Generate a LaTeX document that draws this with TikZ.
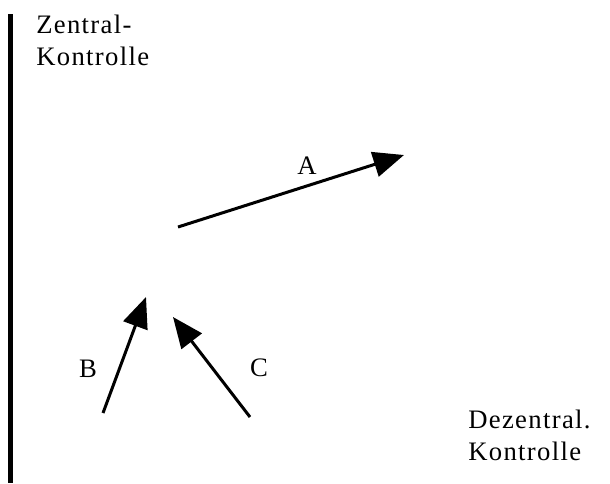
\documentclass[tikz,border=0pt]{standalone}
\usepackage{fontspec}
\setmainfont{Liberation Serif}[LetterSpace=5]
\usetikzlibrary{arrows.meta}

\begin{document}
\begin{tikzpicture}[
  x = 0.75pt, y = -0.75pt,
  lbl/.style  = {font=\fontsize{20}{24}\selectfont, inner sep=0pt},
  txt/.style  = {lbl, align=left, anchor=base west},
  arr/.style  = {line width=2.25pt, -{Triangle[length=23pt, width=19pt]}},
  bar/.style  = {line width=3.75pt},
]
  \useasboundingbox (0,0) rectangle (610,483);
  % left bar
  \coordinate (bartop) at (10.5,14);
  \coordinate (barbot) at (10.5,483);
  \draw[bar] (bartop) -- (barbot);
  % texts
  \node[txt] (zentral)   at (36,65)  {Zentral-\\Kontrolle};
  \node[txt] (dezentral) at (468,460) {Dezentral.\\Kontrolle};
  % arrow ends
  \coordinate (aFrom) at (178,227);
  \coordinate (aTo)   at (404,155);
  \coordinate (bFrom) at (103,413);
  \coordinate (bTo)   at (146,297);
  \coordinate (cFrom) at (250,417);
  \coordinate (cTo)   at (173,317);
  \draw[arr] (aFrom) -- (aTo);
  \draw[arr] (bFrom) -- (bTo);
  \draw[arr] (cFrom) -- (cTo);
  % labels
  \node[lbl] (labA) at (307,166) {A};
  \node[lbl] (labB) at (88,369)  {B};
  \node[lbl] (labC) at (259,368) {C};
\end{tikzpicture}
\end{document}
